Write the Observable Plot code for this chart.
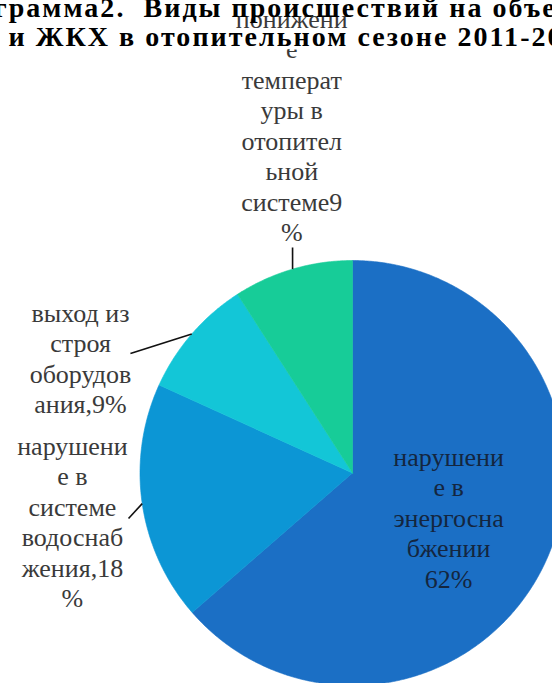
<!DOCTYPE html>
<html>
<head>
<meta charset="utf-8">
<script src="https://cdn.jsdelivr.net/npm/d3@7"></script>
<script src="https://cdn.jsdelivr.net/npm/@observablehq/plot@0.6"></script>
<style>
  html, body { margin: 0; padding: 0; background: #fff; }
  #chart svg { display: block; }
</style>
</head>
<body>
<div id="chart"></div>
<script>
// ---- data ----
const categories = [
  "нарушение в энергоснабжении",
  "нарушение в системе водоснабжения",
  "выход из строя оборудования",
  "понижение температуры в отопительной системе"
];
const shares = [63.6, 18.2, 9.1, 9.1];
const labelTexts = [
  "нарушени\nе в\nэнергосна\nбжении\n62%",
  "нарушени\nе в\nсистеме\nводоснаб\nжения,18\n%",
  "выход из\nстроя\nоборудов\nания,9%",
  "понижени\nе\nтемперат\nуры в\nотопител\nьной\nсистеме9\n%"
];
const titleLines = [
  "Диаграмма2.\u00a0\u00a0Виды происшествий на объектах энергетики",
  "и ЖКХ в отопительном сезоне 2011-2012 гг."
];

// ---- style / layout ----
const colors = ["#1b6fc5", "#0c96d5", "#13c6d7", "#17cc98"];
const serif = "Liberation Serif";
const titleSize = 28;
// label block anchors (unit-circle coordinates, top of first line) and leader ends
const labelLayout = [
  {u: 0.452, v: 0.135, leader: null, fill: "#14263f"},
  {u: -1.318, v: 0.188, leader: [-1.054, -0.214], fill: "#3a3a3a"},
  {u: -1.280, v: 0.814, leader: [-1.045, 0.562], fill: "#3a3a3a"},
  {u: -0.286, v: 2.198, leader: [-0.282, 1.061], fill: "#3a3a3a"}
];

const data = categories.map((c, i) => ({key: c, value: shares[i], label: labelTexts[i], ...labelLayout[i]}));
const arcs = d3.pie().sort(null).value(d => d.value)(data);

// slice outlines in unit-circle coordinates
const slicePts = [];
for (const a of arcs) {
  const n = Math.max(2, Math.ceil((a.endAngle - a.startAngle) / (Math.PI / 360)));
  slicePts.push({key: a.data.key, x: 0, y: 0});
  for (let k = 0; k <= n; k++) {
    const t = a.startAngle + (a.endAngle - a.startAngle) * k / n;
    slicePts.push({key: a.data.key, x: Math.sin(t), y: Math.cos(t)});
  }
  slicePts.push({key: a.data.key, x: 0, y: 0});
}

const leaders = arcs.filter(a => a.data.leader).map(a => {
  const m = (a.startAngle + a.endAngle) / 2;
  return {x1: Math.sin(m), y1: Math.cos(m), x2: a.data.leader[0], y2: a.data.leader[1]};
});

const fs = 26;
const chart = Plot.plot({
  width: 552,
  height: 683,
  margin: 0,
  style: {background: "#fff"},
  x: {domain: [-1, 1], range: [139.5, 564.5], axis: null},
  y: {domain: [-1, 1], range: [685, 260], axis: null},
  color: {domain: categories, range: colors},
  marks: [
    Plot.line(slicePts, {x: "x", y: "y", z: "key", fill: "key", stroke: "key", strokeWidth: 0.6, curve: "linear"}),
    Plot.link(leaders, {x1: "x1", y1: "y1", x2: "x2", y2: "y2", stroke: "#111", strokeWidth: 1.6}),
    Plot.text(data, {
      x: "u", y: "v", text: "label", fill: "fill",
      lineAnchor: "top", textAnchor: "middle", lineHeight: 30.5 / fs,
      fontSize: fs, fontFamily: serif
    }),
    Plot.text([titleLines[0]], {
      text: d => d, frameAnchor: "top-left", lineAnchor: "top", textAnchor: "start",
      dx: 0, dy: 16 - 0.71 * titleSize, fontSize: titleSize, fontWeight: "bold", fontFamily: serif, fill: "#000"
    }),
    Plot.text([titleLines[1]], {
      text: d => d, frameAnchor: "top-left", lineAnchor: "top", textAnchor: "start",
      dx: 8, dy: 45 - 0.71 * titleSize, fontSize: titleSize, fontWeight: "bold", fontFamily: serif,
      fill: "#000", stroke: "#fff", strokeWidth: 7
    })
  ]
});
document.getElementById("chart").appendChild(chart);

// fit the title's letter-spacing to the reference's visible span, measured on the rendered text
try {
  const texts = Array.from(chart.querySelectorAll("text"));
  const text1 = texts.find(t => t.textContent === titleLines[0]);
  const text2 = texts.find(t => t.textContent === titleLines[1]);
  if (text1 && text2) {
    const n2 = "и ЖКХ в отопительном сезоне 2011-2".length;
    const w2 = text2.getSubStringLength(0, n2);
    const ls = Math.max(0, (537 - w2) / (n2 - 1));
    const n1 = "Диаграмма2.\u00a0\u00a0".length;
    const w1 = text1.getSubStringLength(0, n1);
    text2.style.letterSpacing = ls + "px";
    text1.style.letterSpacing = ls + "px";
    text1.setAttribute("x", 143 - w1 - ls * n1);
  }
} catch (e) {
  console.warn(e);
}
</script>
</body>
</html>
